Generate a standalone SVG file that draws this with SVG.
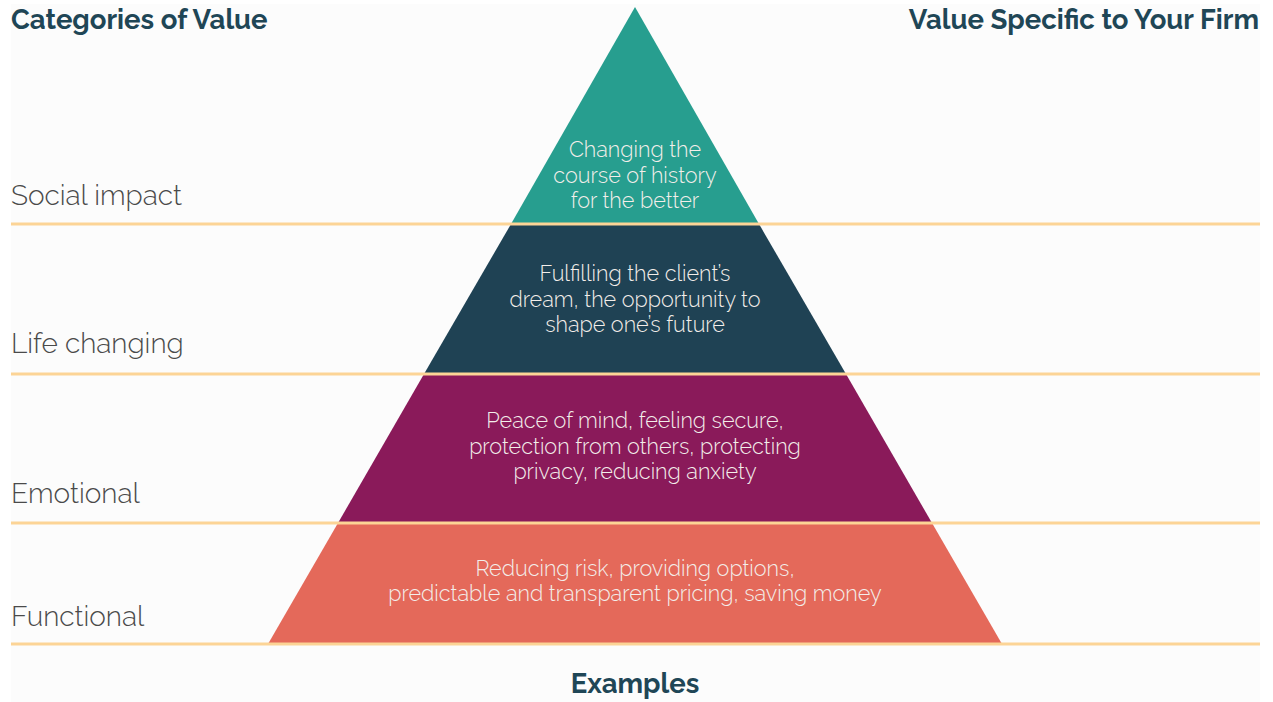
<svg xmlns="http://www.w3.org/2000/svg" width="1273" height="702" viewBox="0 0 1273 702">
<style>
.hdr{font-family:"Raleway","Lato",sans-serif;font-weight:700;font-size:27.5px;fill:#1f4656}
.cat{font-family:"Raleway","Lato",sans-serif;font-weight:300;font-size:28px;fill:#4a4a4a}
.lay{font-family:"Raleway","Lato",sans-serif;font-weight:300;font-size:21.6px;fill:#f3eeea;text-anchor:middle}
.sep{stroke:#fcd496;stroke-width:3;fill:none}
</style>
<rect x="0" y="0" width="1273" height="702" fill="#ffffff"/>
<rect x="11" y="4" width="1249" height="698" fill="#fcfcfc"/>
<g id="pyramid">
<g id="layer-social"><polygon points="635,7 511,224 759,224" fill="#279e8f"/>
<text class="lay"><tspan x="635" y="157">Changing the</tspan><tspan x="635" y="183">course of history</tspan><tspan x="635" y="208">for the better</tspan></text></g>
<g id="layer-life"><polygon points="511,224 759,224 846,374 424,374" fill="#1f4254"/>
<text class="lay"><tspan x="635" y="281">Fulfilling the client’s</tspan><tspan x="635" y="307">dream, the opportunity to</tspan><tspan x="635" y="332">shape one’s future</tspan></text></g>
<g id="layer-emotional"><polygon points="424,374 846,374 932,523 338,523" fill="#8a1a5a"/>
<text class="lay"><tspan x="635" y="428">Peace of mind, feeling secure,</tspan><tspan x="635" y="454">protection from others, protecting</tspan><tspan x="635" y="479">privacy, reducing anxiety</tspan></text></g>
<g id="layer-functional"><polygon points="338,523 932,523 1002,644 268,644" fill="#e4695a"/>
<text class="lay"><tspan x="635" y="576">Reducing risk, providing options,</tspan><tspan x="635" y="601">predictable and transparent pricing, saving money</tspan></text></g>
</g>
<g id="connectors">
<line class="sep" x1="11" y1="224" x2="1260" y2="224"/>
<line class="sep" x1="11" y1="374" x2="1260" y2="374"/>
<line class="sep" x1="11" y1="523" x2="1260" y2="523"/>
<line class="sep" x1="11" y1="644" x2="1260" y2="644"/>
</g>
<g id="labels">
<text class="hdr" x="11" y="29">Categories of Value</text>
<text class="hdr" x="1259" y="29" text-anchor="end">Value Specific to Your Firm</text>
<text class="cat" x="11" y="205">Social impact</text>
<text class="cat" x="11" y="353">Life changing</text>
<text class="cat" x="11" y="503">Emotional</text>
<text class="cat" x="11" y="626">Functional</text>
<text class="hdr" x="635" y="693" text-anchor="middle">Examples</text>
</g>
</svg>
